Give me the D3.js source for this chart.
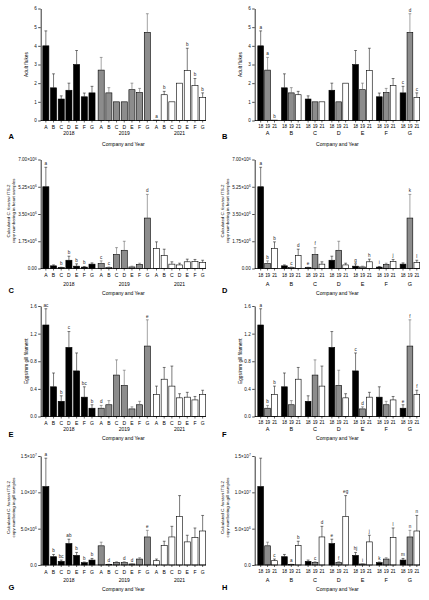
<!DOCTYPE html>
<html><head><meta charset="utf-8">
<script src="https://cdn.jsdelivr.net/npm/d3@7"></script>
<style>body{margin:0;background:#fff}svg{display:block}text{font-family:"Liberation Sans",Arial,sans-serif}</style>
</head><body><svg id="c" width="429" height="600"></svg>
<script>
const companies = ["A","B","C","D","E","F","G"];
const years = ["2018","2019","2021"];
const yearShort = ["18","19","21"];

// Adult flukes (mean, SEM) per year, companies A..G
const flukesMean = [
  [4.0, 1.75, 1.15, 1.62, 3.0, 1.27, 1.48],
  [2.7, 1.48, 1.0, 1.0, 1.65, 1.5, 4.72],
  [0.02, 1.38, 1.0, 2.0, 2.67, 1.88, 1.24]];
const flukesSem = [
  [0.8, 0.75, 0.17, 0.38, 0.75, 0.2, 0.35],
  [0.68, 0.28, 0, 0, 0.35, 0.22, 1.0],
  [0, 0.18, 0, 0, 1.2, 0.37, 0.24]];
// Heart ITS-2 copy numbers
const heartMean = [
  [5.25e6, 0.17e6, 0.06e6, 0.53e6, 0.15e6, 0.09e6, 0.28e6],
  [0.32e6, 0.06e6, 0.9e6, 1.17e6, 0.1e6, 0.26e6, 3.24e6],
  [1.28e6, 0.83e6, 0.28e6, 0.23e6, 0.43e6, 0.45e6, 0.38e6]];
const heartSem = [
  [1.25e6, 0.06e6, 0.02e6, 0.26e6, 0.15e6, 0.04e6, 0.08e6],
  [0.17e6, 0.04e6, 0.44e6, 0.58e6, 0.05e6, 0.08e6, 1.52e6],
  [0.43e6, 0.41e6, 0.15e6, 0.11e6, 0.17e6, 0.13e6, 0.15e6]];
// Eggs / mm gill filament
const eggsMean = [
  [1.325, 0.43, 0.22, 1.0, 0.66, 0.28, 0.12],
  [0.12, 0.17, 0.6, 0.45, 0.11, 0.17, 1.02],
  [0.32, 0.54, 0.44, 0.27, 0.28, 0.24, 0.32]];
const eggsSem = [
  [0.235, 0.2, 0.08, 0.23, 0.26, 0.15, 0.05],
  [0.04, 0.06, 0.22, 0.22, 0.03, 0.05, 0.38],
  [0.12, 0.17, 0.29, 0.06, 0.07, 0.05, 0.06]];
// Gill ITS-2 copy numbers
const gillMean = [
  [10.8e6, 1.14e6, 0.5e6, 2.95e6, 1.32e6, 0.32e6, 0.68e6],
  [2.64e6, 0.09e6, 0.36e6, 0.32e6, 0.14e6, 0.82e6, 3.86e6],
  [0.59e6, 2.68e6, 3.86e6, 6.68e6, 3.18e6, 3.77e6, 4.68e6]];
const gillSem = [
  [3.9e6, 0.31e6, 0.18e6, 0.6e6, 0.41e6, 0.09e6, 0.22e6],
  [0.5e6, 0.02e6, 0.09e6, 0.13e6, 0.03e6, 0.18e6, 0.91e6],
  [0.23e6, 0.59e6, 1.46e6, 2.87e6, 0.91e6, 1.32e6, 2.14e6]];

// significance letters [year][company]
const lettersA = [["","","","","","",""],["","","","","","",""],["a","b","","","b","b","b"]];
const lettersB = [["a","","","","","","c"],["a","","","","","","d"],["b","","","","","","c"]];
const lettersC = [["a","","b","b","b","b",""],["c","c","","","","","d"],["","","","","","",""]];
const lettersD = [["a","","e","","g","i",""],["b","c","f","","","","k"],["b","d","","","h","j","l"]];
const lettersE = [["ac","","b","c","","bc","b"],["d","","","","","","e"],["","","","","","",""]];
const lettersF = [["a","","","","c","","e"],["b","","","","d","","f"],["b","","","","","","f"]];
const lettersG = [["a","b","bc","ab","b","b","b"],["","d","","d","d","","e"],["","","","","","",""]];
const lettersH = [["","","","e","hj","k","m"],["","a","c","f","i","","n"],["c","b","d","eg","j","l","n"]];

// y ticks and labels ("^" marks superscript)
const flukesTicks = [0,1,2,3,4,5,6];
const flukesTickLabels = ["0","1","2","3","4","5","6"];
const heartTicks = [0,1.75e6,3.5e6,5.25e6,7e6];
const heartTickLabels = ["0.00","1.75×10^6","3.50×10^6","5.25×10^6","7.00×10^6"];
const eggsTicks = [0,0.4,0.8,1.2,1.6];
const eggsTickLabels = ["0.0","0.4","0.8","1.2","1.6"];
const gillTicks = [0,5e6,1e7,1.5e7];
const gillTickLabels = ["0.0","5.0×10^6","1.0×10^7","1.5×10^7"];

const svg = d3.select("#c");
const fills = ["#000000","#8c8c8c","#ffffff"];

const rows = [
  {top:8.5, bottom:120.5, t1:126.5, t2:133, title:143.5, letter:136},
  {top:159.5, bottom:268.5, t1:275, t2:284, title:293, letter:290.5},
  {top:306, bottom:416.5, t1:422.5, t2:429, title:437.5, letter:434.5},
  {top:456, bottom:565, t1:571.5, t2:580, title:589, letter:587.5}];
const cols = [{ox:0},{ox:214}];

const panels = [
  {id:"A",row:0,col:0,mode:"year",mean:flukesMean,sem:flukesSem,letters:lettersA,max:6,ticks:flukesTicks,tl:flukesTickLabels,title:["Adult flukes"]},
  {id:"B",row:0,col:1,mode:"comp",mean:flukesMean,sem:flukesSem,letters:lettersB,max:6,ticks:flukesTicks,tl:flukesTickLabels,title:["Adult flukes"]},
  {id:"C",row:1,col:0,mode:"year",mean:heartMean,sem:heartSem,letters:lettersC,max:7e6,ticks:heartTicks,tl:heartTickLabels,title:["Calculated *C. forsteri* ITS-2","copy numbering in heart samples"]},
  {id:"D",row:1,col:1,mode:"comp",mean:heartMean,sem:heartSem,letters:lettersD,max:7e6,ticks:heartTicks,tl:heartTickLabels,title:["Calculated *C. forsteri* ITS-2","copy numbering in heart samples"]},
  {id:"E",row:2,col:0,mode:"year",mean:eggsMean,sem:eggsSem,letters:lettersE,max:1.6,ticks:eggsTicks,tl:eggsTickLabels,title:["Eggs/mm gill filament"]},
  {id:"F",row:2,col:1,mode:"comp",mean:eggsMean,sem:eggsSem,letters:lettersF,max:1.6,ticks:eggsTicks,tl:eggsTickLabels,title:["Eggs/mm gill filament"]},
  {id:"G",row:3,col:0,mode:"year",mean:gillMean,sem:gillSem,letters:lettersG,max:1.5e7,ticks:gillTicks,tl:gillTickLabels,title:["Calculated *C. forsteri* ITS-2","copy numbering in gill samples"]},
  {id:"H",row:3,col:1,mode:"comp",mean:gillMean,sem:gillSem,letters:lettersH,max:1.5e7,ticks:gillTicks,tl:gillTickLabels,title:["Calculated *C. forsteri* ITS-2","copy numbering in gill samples"]}];

function richText(sel, str){
  str.split("*").forEach((part,i)=>{ if(part) sel.append("tspan").attr("font-style", i%2 ? "italic":"normal").text(part); });
}

panels.forEach(p=>{
  const r = rows[p.row], ox = cols[p.col].ox;
  const g = svg.append("g").attr("transform",`translate(${ox},0)`);
  const axisX = 40.7, x0 = 42.5, x1 = 206;
  const y = d3.scaleLinear().domain([0,p.max]).range([r.bottom, r.top]);
  let outer, inner;
  if (p.mode==="year"){
    outer = d3.scaleBand().domain(years).range([x0,x1]).paddingInner(0.045);
    inner = d3.scaleBand().domain(companies).range([0,outer.bandwidth()]).paddingInner(0.13);
  } else {
    outer = d3.scaleBand().domain(companies).range([x0+1,x1]).paddingInner(0.15);
    inner = d3.scaleBand().domain(yearShort).range([0,outer.bandwidth()]).paddingInner(0.08);
  }
  const items = [];
  for (let yi=0; yi<3; yi++) for (let ci=0; ci<7; ci++){
    const x = p.mode==="year" ? outer(years[yi]) + inner(companies[ci]) : outer(companies[ci]) + inner(yearShort[yi]);
    items.push({yi,ci,x,w:inner.bandwidth(),m:p.mean[yi][ci],s:p.sem[yi][ci],l:p.letters[yi][ci]});
  }
  // bars
  g.selectAll("rect.bar").data(items).join("rect").attr("class","bar")
    .attr("x",d=>d.x+0.3).attr("width",d=>d.w-0.6)
    .attr("y",d=>y(d.m)).attr("height",d=>Math.max(0.3, y(0)-y(d.m)))
    .attr("fill",d=>fills[d.yi]).attr("stroke","#000").attr("stroke-width",0.6);
  // error bars
  const eb = items.filter(d=>d.s>0);
  g.selectAll("line.eb").data(eb).join("line").attr("class","eb")
    .attr("x1",d=>d.x+d.w/2).attr("x2",d=>d.x+d.w/2)
    .attr("y1",d=>y(d.m)).attr("y2",d=>y(d.m+d.s))
    .attr("stroke",d=>d.yi===1?"#666":"#222").attr("stroke-width",0.6);
  g.selectAll("line.cap").data(eb).join("line").attr("class","cap")
    .attr("x1",d=>d.x+d.w/2-1.4).attr("x2",d=>d.x+d.w/2+1.4)
    .attr("y1",d=>y(d.m+d.s)).attr("y2",d=>y(d.m+d.s))
    .attr("stroke",d=>d.yi===1?"#666":"#222").attr("stroke-width",0.6);
  // letters
  g.selectAll("text.sig").data(items.filter(d=>d.l)).join("text").attr("class","sig")
    .attr("x",d=>d.x+d.w/2).attr("y",d=>y(d.m+d.s)-2.2)
    .attr("text-anchor","middle").attr("font-size",4.6).attr("fill","#222").text(d=>d.l);
  // y axis
  const ya = g.append("g").attr("transform",`translate(${axisX},0)`)
    .call(d3.axisLeft(y).tickValues(p.ticks).tickSize(2.5).tickSizeOuter(0).tickPadding(1.5));
  ya.select(".domain").attr("stroke-width",0.8);
  ya.selectAll(".tick line").attr("stroke-width",0.7);
  ya.selectAll(".tick text").attr("font-size",4.6).attr("font-family",null).attr("fill","#111")
    .each(function(d,i){
      const t = d3.select(this); const parts = p.tl[i].split("^");
      t.text(null); t.append("tspan").text(parts[0]);
      if (parts[1]) t.append("tspan").attr("dy",-1.8).attr("font-size",3.2).text(parts[1]);
    });
  // x axis
  g.append("line").attr("x1",axisX).attr("x2",x1).attr("y1",r.bottom).attr("y2",r.bottom)
    .attr("stroke","#000").attr("stroke-width",0.8);
  g.selectAll("line.xt").data(items).join("line").attr("class","xt")
    .attr("x1",d=>d.x+d.w/2).attr("x2",d=>d.x+d.w/2).attr("y1",r.bottom).attr("y2",r.bottom+2)
    .attr("stroke","#000").attr("stroke-width",0.6);
  if (p.mode==="year"){
    g.selectAll("text.xl").data(items).join("text").attr("class","xl")
      .attr("x",d=>d.x+d.w/2).attr("y",r.t1).attr("dominant-baseline","central")
      .attr("text-anchor","middle").attr("font-size",5).text(d=>companies[d.ci]);
    g.selectAll("text.yl").data(years).join("text").attr("class","yl")
      .attr("x",d=>outer(d)+outer.bandwidth()/2).attr("y",r.t2).attr("dominant-baseline","central")
      .attr("text-anchor","middle").attr("font-size",5).text(d=>d);
  } else {
    g.selectAll("text.xl").data(items).join("text").attr("class","xl")
      .attr("x",d=>d.x+d.w/2).attr("y",r.t1).attr("dominant-baseline","central")
      .attr("text-anchor","middle").attr("font-size",4.6).attr("letter-spacing",-0.2).text(d=>yearShort[d.yi]);
    g.selectAll("text.yl").data(companies).join("text").attr("class","yl")
      .attr("x",d=>outer(d)+outer.bandwidth()/2).attr("y",r.t2).attr("dominant-baseline","central")
      .attr("text-anchor","middle").attr("font-size",5.5).text(d=>d);
  }
  // x title
  g.append("text").attr("x",(axisX+x1)/2).attr("y",r.title).attr("dominant-baseline","central")
    .attr("text-anchor","middle").attr("font-size",5).text("Company and Year");
  // y title
  const mid = (r.top+r.bottom)/2;
  if (p.title.length===1){
    const t = g.append("text").attr("transform",`translate(26,${mid}) rotate(-90)`)
      .attr("text-anchor","middle").attr("dominant-baseline","central").attr("font-size",4.8);
    richText(t,p.title[0]);
  } else {
    p.title.forEach((line,i)=>{
      const t = g.append("text").attr("transform",`translate(${7.6+i*5.4},${mid-3}) rotate(-90)`)
        .attr("text-anchor","middle").attr("dominant-baseline","central").attr("font-size",4.4);
      richText(t,line);
    });
  }
  // panel letter
  g.append("text").attr("x",p.col?8:8.5).attr("y",r.letter).attr("dominant-baseline","central")
    .attr("font-size",7.5).attr("font-weight","bold").text(p.id);
});
</script></body></html>
